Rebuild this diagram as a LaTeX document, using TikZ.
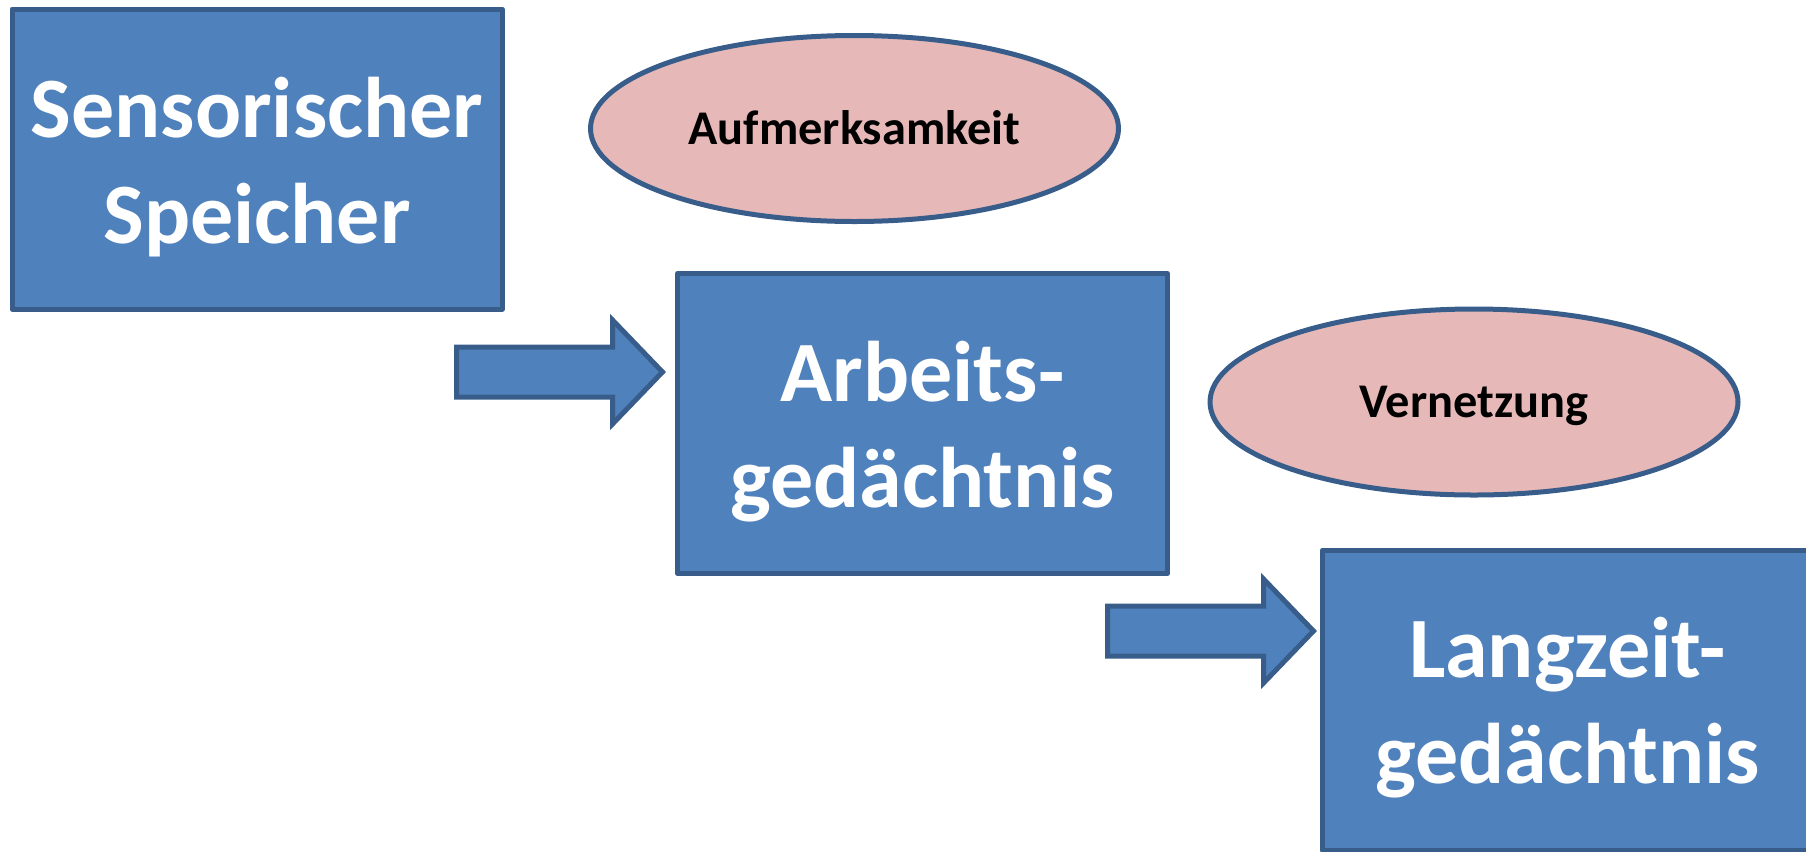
\documentclass[tikz,border=0pt]{standalone}
\usepackage{fontspec}
\setmainfont{Carlito}
\usetikzlibrary{shapes.geometric}
\definecolor{boxfill}{HTML}{4F81BD}
\definecolor{boxline}{HTML}{385D8A}
\definecolor{ovalfill}{HTML}{E6B9B8}
% block arrow pointing right, starting at the middle of its tail
\newcommand\blockarrow[1]{%
  \draw[flow] (#1) -- ++(0,-25) -- ++(156,0) -- ++(0,-27) -- ++(50,52)
    -- ++(-50,52) -- ++(0,-27) -- ++(-156,0) -- cycle;}
\begin{document}
\begin{tikzpicture}[x=0.5pt,y=-0.5pt,
  memory/.style={draw=boxline, fill=boxfill, line width=2.5pt, line join=round,
    minimum width=245pt, minimum height=150pt, inner sep=0pt},
  memtext/.style={text=white, align=center, inner sep=0pt, yshift=-4pt,
    font=\bfseries\fontsize{43}{53}\selectfont},
  focus/.style={ellipse, draw=boxline, fill=ovalfill, line width=2.5pt,
    minimum width=264pt, minimum height=93pt, inner sep=0pt,
    font=\bfseries\fontsize{24.2}{29}\selectfont, text height=15.5pt, text depth=0pt},
  flow/.style={draw=boxline, fill=boxfill, line width=2.5pt}]
\useasboundingbox (0,0) rectangle (1806,852);
\clip (0,0) rectangle (1806,852);

\node[memory] (sensor) at (257,159) {};
\node[memory] (work) at (922.5,423.5) {};
\node[memory] (long) at (1567.5,700) {};
\node[memtext] (sensortext) at (sensor.center) {Sensorischer\\Speicher};
\node[memtext] (worktext) at (work.center) {Arbeits-\\gedächtnis};
\node[memtext] (longtext) at (long.center) {Langzeit-\\gedächtnis};

\node[focus] (attention) at (854.5,128.5) {Aufmerksamkeit};
\node[focus] (linking) at (1474,402) {Vernetzung};

\coordinate (flowA) at (456.5,372);
\coordinate (flowB) at (1107.5,631);
\blockarrow{flowA}
\blockarrow{flowB}
\end{tikzpicture}
\end{document}
